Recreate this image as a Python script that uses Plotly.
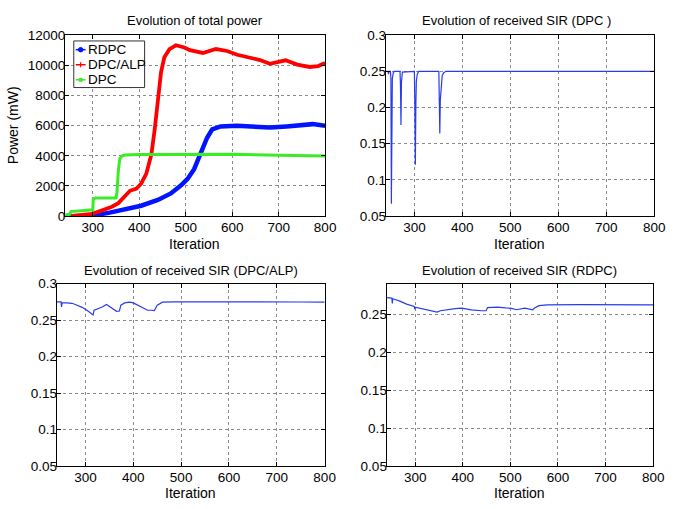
import plotly.graph_objects as go

# ---- total transmit power (mW) vs iteration ----
rdpc_it = [250, 270, 298, 334, 369, 404, 440, 468, 490, 504, 518, 532, 546, 557, 575,
           610, 646, 681, 717, 752, 773, 800]
rdpc_pw = [0, 0, 30, 215, 430, 690, 1075, 1505, 2040, 2470, 3115, 4150, 5200, 5750, 5950,
           6000, 5960, 5870, 5950, 6060, 6100, 6000]

alp_it = [252, 275, 298, 319, 341, 355, 369, 380, 394, 404, 415, 426, 433, 440, 447, 454,
          465, 479, 497, 509, 537, 565, 589, 611, 639, 660, 681, 700, 715, 740, 767, 785, 800]
alp_pw = [0, 50, 150, 365, 625, 860, 1290, 1680, 1830, 2150, 2800, 4080, 5700, 7630, 9565, 10530,
          11070, 11330, 11180, 11000, 10820, 11080, 10950, 10700, 10480, 10350, 10100, 10250, 10330,
          10050, 9890, 9950, 10150]

dpc_it = [240, 250, 253, 300, 301, 306, 350, 352, 355, 358, 362, 370, 400, 504, 604, 702, 800]
dpc_pw = [60, 120, 300, 420, 1150, 1200, 1200, 1600, 3000, 3800, 3980, 4050, 4080, 4080, 4100,
          4040, 3980]

# ---- received SIR vs iteration ----
sir_dpc_it = [240, 245, 246, 247, 250, 251, 252, 253, 254, 256, 258, 270, 271, 272, 273, 275,
              300, 301, 302, 303, 304, 306, 309, 351, 352, 353, 354, 356, 358, 361, 366, 800]
sir_dpc = [0.25, 0.25, 0.246, 0.25, 0.25, 0.24, 0.067, 0.2, 0.24, 0.248, 0.25, 0.25, 0.23, 0.176,
           0.235, 0.249, 0.25, 0.2, 0.121, 0.2, 0.236, 0.246, 0.25, 0.25, 0.2, 0.164, 0.21, 0.236,
           0.244, 0.248, 0.25, 0.25]

sir_alp_it = [240, 249, 250, 251, 260, 272, 280, 293, 303, 313, 316, 318, 325, 334, 344, 354,
              365, 371, 374, 382, 392, 400, 406, 420, 430, 437, 444, 450, 461, 484, 550, 600,
              650, 700, 750, 800]
sir_alp = [0.275, 0.275, 0.268, 0.274, 0.2735, 0.273, 0.271, 0.2675, 0.2635, 0.2585, 0.257, 0.2635,
           0.265, 0.2675, 0.2715, 0.2675, 0.262, 0.2625, 0.2705, 0.2735, 0.2745, 0.2735, 0.2715,
           0.2675, 0.2635, 0.2635, 0.263, 0.2705, 0.2745, 0.275, 0.2752, 0.2748, 0.275, 0.2752,
           0.2748, 0.2745]

sir_rdpc_it = [240, 251, 252, 253, 268, 282, 298, 299, 300, 323, 346, 353, 364, 374, 384, 398,
               418, 439, 449, 452, 473, 490, 502, 513, 530, 547, 550, 560, 578, 650, 700, 750, 800]
sir_rdpc = [0.2715, 0.271, 0.264, 0.27, 0.267, 0.263, 0.26, 0.2565, 0.259, 0.2555, 0.2525, 0.2543,
            0.2555, 0.2564, 0.2572, 0.2577, 0.2555, 0.2543, 0.2543, 0.2585, 0.259, 0.258, 0.2575,
            0.2556, 0.2578, 0.2556, 0.2575, 0.261, 0.262, 0.2624, 0.2622, 0.2622, 0.262]

x_ticks = [300, 400, 500, 600, 700, 800]
power_ticks = [0, 2000, 4000, 6000, 8000, 10000, 12000]
sir_ticks = [0.05, 0.1, 0.15, 0.2, 0.25, 0.3]
sir_ticks_rdpc = [0.05, 0.1, 0.15, 0.2, 0.25]

legend_names = ["RDPC", "DPC/ALP", "DPC"]
BLUE, RED, GREEN = "rgb(0,20,255)", "rgb(255,0,0)", "rgb(60,235,40)"
legend_colors = [BLUE, RED, GREEN]

W, H = 676, 509
FONT = "Liberation Sans, Arial, Helvetica, sans-serif"
SIR_BLUE = "rgb(40,60,235)"


def px_x(v):
    return v / W


def px_y(v):
    return 1 - v / H


fig = go.Figure()

fig.add_trace(go.Scatter(x=rdpc_it, y=rdpc_pw, name="RDPC", mode="lines",
                         line=dict(color=BLUE, width=4.5), xaxis="x", yaxis="y"))
fig.add_trace(go.Scatter(x=alp_it, y=alp_pw, name="DPC/ALP", mode="lines",
                         line=dict(color=RED, width=3.8), xaxis="x", yaxis="y"))
fig.add_trace(go.Scatter(x=dpc_it, y=dpc_pw, name="DPC", mode="lines",
                         line=dict(color=GREEN, width=3), xaxis="x", yaxis="y"))

fig.add_trace(go.Scatter(x=sir_dpc_it, y=sir_dpc, mode="lines",
                         line=dict(color=SIR_BLUE, width=1.2), xaxis="x2", yaxis="y2"))
fig.add_trace(go.Scatter(x=sir_alp_it, y=sir_alp, mode="lines",
                         line=dict(color=SIR_BLUE, width=1.2), xaxis="x3", yaxis="y3"))
fig.add_trace(go.Scatter(x=sir_rdpc_it, y=sir_rdpc, mode="lines",
                         line=dict(color=SIR_BLUE, width=1.2), xaxis="x4", yaxis="y4"))

axis_common = dict(showline=True, linecolor="black", linewidth=1, mirror="ticks",
                   ticks="inside", ticklen=4, tickcolor="black", showgrid=True,
                   gridcolor="#8a8a8a", griddash="dot", gridwidth=1, zeroline=False,
                   tickfont=dict(family=FONT, size=13.5, color="black"))


def xaxis(left, right, anchor):
    return dict(axis_common, domain=[px_x(left), px_x(right)], range=[240, 800],
                tickvals=x_ticks, ticktext=[str(t) for t in x_ticks], anchor=anchor,
                ticklabelstandoff=-1)


def yaxis(top, bottom, rng, vals, anchor):
    return dict(axis_common, domain=[px_y(bottom), px_y(top)], range=rng,
                tickvals=vals, ticktext=[f"{v:g}" for v in vals], anchor=anchor,
                ticklabelstandoff=-4)


annotations = []
shapes = []


def label(text, x, y, angle=0, anchor="center", size=13):
    annotations.append(dict(text=text, x=px_x(x), y=px_y(y), xref="paper", yref="paper",
                            showarrow=False, xanchor=anchor, yanchor="middle",
                            textangle=angle, font=dict(family=FONT, size=size, color="black")))


label("Evolution of total power", 198, 14)
label("Evolution of received SIR (DPC )", 525, 14)
label("Evolution of received SIR (DPC/ALP)", 194, 271)
label("Evolution of received SIR (RDPC)", 528, 271)
label("Iteration", 198, 244.5, size=14)
label("Iteration", 528, 244.5, size=14)
label("Iteration", 194, 501, size=14)
label("Iteration", 528, 501, size=14)
label("Power (mW)", 14, 122, -90, size=14)

# legend box drawn in paper space: box, short line samples with markers, names
LEG_L, LEG_R, LEG_T, LEG_B = 75, 147, 35, 83
shapes.append(dict(type="rect", xref="paper", yref="paper",
                   x0=px_x(LEG_L), x1=px_x(LEG_R), y0=px_y(LEG_B), y1=px_y(LEG_T),
                   line=dict(color="#333", width=1), fillcolor="white", layer="above"))
row_y = [44, 59.5, 75]
for i, (name, col) in enumerate(zip(legend_names, legend_colors)):
    yy = row_y[i]
    shapes.append(dict(type="line", xref="paper", yref="paper",
                       x0=px_x(77), x1=px_x(87), y0=px_y(yy), y1=px_y(yy),
                       line=dict(color=col, width=1.5), layer="above"))
    cx = 82
    if i == 0:
        shapes.append(dict(type="circle", xref="paper", yref="paper",
                           x0=px_x(cx - 2.3), x1=px_x(cx + 2.3),
                           y0=px_y(yy + 2.3), y1=px_y(yy - 2.3),
                           line=dict(color=col, width=1), fillcolor=col, layer="above"))
    elif i == 1:
        shapes.append(dict(type="line", xref="paper", yref="paper",
                           x0=px_x(cx), x1=px_x(cx), y0=px_y(yy + 2.5), y1=px_y(yy - 2.5),
                           line=dict(color=col, width=1.2), layer="above"))
    else:
        shapes.append(dict(type="rect", xref="paper", yref="paper",
                           x0=px_x(cx - 1.5), x1=px_x(cx + 1.5),
                           y0=px_y(yy + 1.5), y1=px_y(yy - 1.5),
                           line=dict(color=col, width=1), fillcolor=col, layer="above"))
    label(name, 87.5, yy, anchor="left", size=13.5)

fig.update_layout(
    width=W, height=H,
    margin=dict(l=0, r=0, t=0, b=0),
    paper_bgcolor="white", plot_bgcolor="white",
    font=dict(family=FONT, size=13, color="black"),
    xaxis=xaxis(66, 330.5, "y"),
    yaxis=yaxis(29, 215.5, [0, 12000], power_ticks, "x"),
    xaxis2=xaxis(392, 665, "y2"),
    yaxis2=yaxis(29, 215.5, [0.05, 0.3], sir_ticks, "x2"),
    xaxis3=xaxis(57.7, 330, "y3"),
    yaxis3=yaxis(285, 473, [0.05, 0.3], sir_ticks, "x3"),
    xaxis4=xaxis(393, 664, "y4"),
    yaxis4=yaxis(285, 473, [0.05, 0.29], sir_ticks_rdpc, "x4"),
    annotations=annotations,
    shapes=shapes,
    showlegend=False,
)

fig.write_html("out.html")
